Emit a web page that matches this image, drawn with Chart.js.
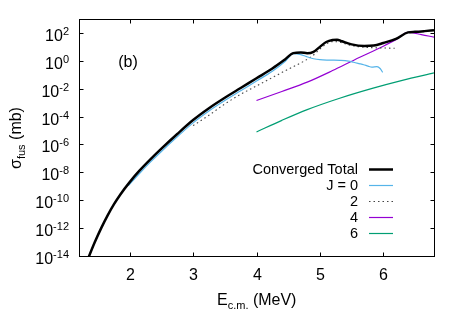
<!DOCTYPE html>
<html>
<head>
<meta charset="utf-8">
<script src="https://cdn.jsdelivr.net/npm/chart.js@4"></script>
<style>
  body { margin: 0; background: #fff; }
  canvas { display: block; }
</style>
</head>
<body>
<canvas id="fus-chart" width="463" height="324"></canvas>
<script>
// E_cm (MeV) and log10(sigma_fus / mb)
const eTotal = [1.33, 1.36, 1.45, 1.55, 1.65, 1.75, 1.85, 2.0, 2.15, 2.33, 2.5, 2.75, 3.0, 3.25, 3.5, 3.75, 4.0, 4.25, 4.45, 4.58, 4.7, 4.8, 4.9, 5.0, 5.1, 5.2, 5.27, 5.35, 5.5, 5.7, 5.85, 6.0, 6.2, 6.39, 6.5, 6.65, 6.8];
const logTotal = [-14.35, -14.0, -13.0, -12.0, -11.1, -10.3, -9.6, -8.7, -7.9, -7.05, -6.3, -5.25, -4.25, -3.4, -2.65, -1.95, -1.25, -0.55, 0.1, 0.55, 0.6, 0.55, 0.65, 1.0, 1.35, 1.5, 1.52, 1.4, 1.18, 1.07, 1.1, 1.28, 1.57, 2.04, 2.08, 2.13, 2.19];

const eJ0 = [1.98, 2.15, 2.33, 2.5, 2.75, 3.0, 3.25, 3.5, 3.75, 4.0, 4.25, 4.45, 4.58, 4.7, 4.79, 4.9, 5.0, 5.15, 5.32, 5.45, 5.53, 5.62, 5.69, 5.76, 5.82, 5.9, 5.95, 5.99];
const logJ0 = [-8.95, -8.1, -7.25, -6.5, -5.45, -4.45, -3.6, -2.85, -2.15, -1.45, -0.75, -0.05, 0.52, 0.45, 0.3, 0.15, 0.08, 0.05, 0.03, -0.02, -0.1, -0.2, -0.28, -0.38, -0.45, -0.42, -0.55, -0.83];

const eJ2 = [3.0, 3.25, 3.5, 3.75, 4.0, 4.25, 4.5, 4.75, 4.9, 5.0, 5.1, 5.2, 5.3, 5.45, 5.6, 5.8, 6.0, 6.18];
const logJ2 = [-4.65, -3.9, -3.1, -2.4, -1.8, -1.2, -0.6, -0.02, 0.42, 0.85, 1.2, 1.38, 1.35, 1.15, 1.02, 0.95, 0.92, 0.9];

const eJ4 = [4.0, 4.4, 4.8, 5.2, 5.55, 6.0, 6.2, 6.39, 6.6, 6.8];
const logJ4 = [-2.85, -2.2, -1.53, -0.7, 0.08, 1.05, 1.52, 2.04, 1.88, 1.7];

const eJ6 = [4.0, 4.4, 4.8, 5.3, 5.84, 6.3, 6.8];
const logJ6 = [-5.1, -4.27, -3.5, -2.7, -1.96, -1.4, -0.87];

const xTicks = [2, 3, 4, 5, 6];
const yTickExps = [-14, -12, -10, -8, -6, -4, -2, 0, 2];
const legendLabels = ['Converged Total', 'J = 0', '2', '4', '6'];

const FONT = '"Liberation Sans", Arial, sans-serif';

function pts(es, logs) {
  return es.map((e, i) => ({ x: e, y: Math.pow(10, logs[i]) }));
}

const datasets = [
  { label: legendLabels[0], data: pts(eTotal, logTotal), borderColor: '#000', borderWidth: 2.5 },
  { label: legendLabels[1], data: pts(eJ0, logJ0), borderColor: '#56b4e9', borderWidth: 1.2 },
  { label: legendLabels[2], data: pts(eJ2, logJ2), borderColor: '#444', borderWidth: 1.1, borderDash: [1.5, 3] },
  { label: legendLabels[3], data: pts(eJ4, logJ4), borderColor: '#9400d3', borderWidth: 1.2 },
  { label: legendLabels[4], data: pts(eJ6, logJ6), borderColor: '#009e73', borderWidth: 1.2 }
];
datasets.forEach(d => {
  d.pointRadius = 0;
  d.fill = false;
  d.cubicInterpolationMode = 'monotone';
});

// frame, inward ticks, labels, titles and key, gnuplot style
const decor = {
  id: 'decor',
  afterDraw(chart) {
    const ctx = chart.ctx;
    const a = chart.chartArea;
    const xs = chart.scales.x, ys = chart.scales.y;
    const L = Math.round(a.left) + 0.5, R = Math.round(a.right) + 0.5;
    const T = Math.round(a.top) + 0.5, B = Math.round(a.bottom) + 0.5;
    ctx.save();
    ctx.strokeStyle = '#000';
    ctx.lineWidth = 1;
    ctx.setLineDash([]);
    ctx.strokeRect(L, T, R - L, B - T);

    ctx.fillStyle = '#000';
    ctx.textBaseline = 'alphabetic';
    // x ticks
    xTicks.forEach(v => {
      const px = Math.round(xs.getPixelForValue(v)) + 0.5;
      ctx.beginPath();
      ctx.moveTo(px, B); ctx.lineTo(px, B - 4);
      ctx.moveTo(px, T); ctx.lineTo(px, T + 4);
      ctx.stroke();
      ctx.font = '16px ' + FONT;
      ctx.textAlign = 'center';
      ctx.fillText(String(v), px, 280);
    });
    // y ticks 10^n
    yTickExps.forEach(n => {
      const py = Math.round(ys.getPixelForValue(Math.pow(10, n))) + 0.5;
      ctx.beginPath();
      ctx.moveTo(L, py); ctx.lineTo(L + 4, py);
      ctx.moveTo(R, py); ctx.lineTo(R - 4, py);
      ctx.stroke();
      ctx.textAlign = 'left';
      ctx.font = '11px ' + FONT;
      const sup = String(n);
      const ws = ctx.measureText(sup).width;
      ctx.font = '16px ' + FONT;
      const wb = ctx.measureText('10').width;
      const x0 = 69 - ws - wb;
      ctx.fillText('10', x0, py + 7);
      ctx.font = '11px ' + FONT;
      ctx.fillText(sup, x0 + wb, py + 1.5);
    });

    // x title: E_c.m. (MeV)
    ctx.textAlign = 'left';
    ctx.font = '16px ' + FONT;
    const wE = ctx.measureText('E').width;
    const wM = ctx.measureText(' (MeV)').width;
    ctx.font = '11px ' + FONT;
    const wS = ctx.measureText('c.m.').width;
    let xt = 217;
    ctx.font = '16px ' + FONT;
    ctx.fillText('E', xt, 305);
    ctx.font = '11px ' + FONT;
    ctx.fillText('c.m.', xt + wE, 309);
    ctx.font = '16px ' + FONT;
    ctx.fillText(' (MeV)', xt + wE + wS, 305);

    // y title: sigma_fus (mb)
    ctx.save();
    ctx.translate(21, (T + B) / 2);
    ctx.rotate(-Math.PI / 2);
    ctx.font = '16px ' + FONT;
    const wSig = ctx.measureText('σ').width;
    const wMb = ctx.measureText(' (mb)').width;
    ctx.font = '11px ' + FONT;
    const wF = ctx.measureText('fus').width;
    let yt = -(wSig + wF + wMb) / 2;
    ctx.font = '16px ' + FONT;
    ctx.fillText('σ', yt, 0);
    ctx.font = '11px ' + FONT;
    ctx.fillText('fus', yt + wSig, 4);
    ctx.font = '16px ' + FONT;
    ctx.fillText(' (mb)', yt + wSig + wF, 0);
    ctx.restore();

    // panel label
    ctx.font = '16px ' + FONT;
    ctx.textAlign = 'center';
    ctx.fillText('(b)', 128, 67);

    // key
    chart.data.datasets.forEach((d, i) => {
      const ry = 169 + i * 16;
      ctx.font = '14.5px ' + FONT;
      ctx.textAlign = 'right';
      ctx.fillStyle = '#000';
      ctx.fillText(d.label, 358, ry + 5);
      ctx.strokeStyle = d.borderColor;
      ctx.lineWidth = d.borderWidth;
      ctx.setLineDash(d.borderDash || []);
      ctx.beginPath();
      ctx.moveTo(369, ry + 0.5);
      ctx.lineTo(393, ry + 0.5);
      ctx.stroke();
    });
    ctx.restore();
  }
};

new Chart(document.getElementById('fus-chart'), {
  type: 'line',
  data: { datasets: datasets },
  options: {
    responsive: false,
    animation: false,
    devicePixelRatio: 1,
    layout: { padding: { left: 79, top: 19, right: 29, bottom: 68 } },
    plugins: { legend: { display: false }, tooltip: { enabled: false } },
    scales: {
      x: { type: 'linear', min: 1.2, max: 6.8, display: false },
      y: { type: 'logarithmic', min: 1e-14, max: 1e3, display: false }
    }
  },
  plugins: [decor]
});
</script>
</body>
</html>
